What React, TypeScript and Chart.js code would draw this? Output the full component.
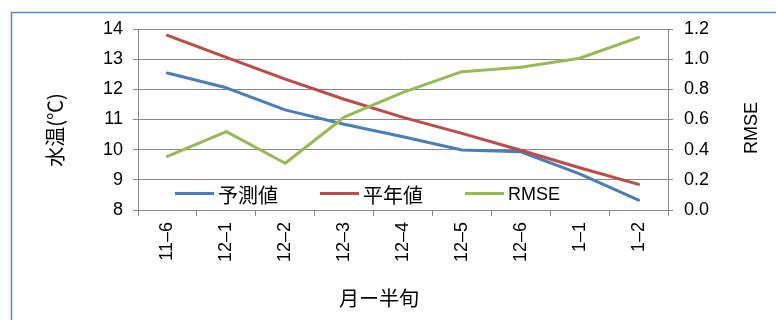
import React, { useEffect, useRef } from "react";
import { Chart, registerables } from "chart.js";

Chart.register(...registerables);

// 月-半旬 categories
const periods = ["11–6", "12–1", "12–2", "12–3", "12–4", "12–5", "12–6", "1–1", "1–2"];
// 予測値 (water temperature forecast, °C)
const forecast = [12.54, 12.05, 11.32, 10.84, 10.43, 9.99, 9.93, 9.2, 8.33];
// 平年値 (normal water temperature, °C)
const normal = [13.79, 13.06, 12.34, 11.67, 11.07, 10.54, 9.98, 9.4, 8.85];
// RMSE of the forecast
const rmse = [0.355, 0.52, 0.31, 0.615, 0.78, 0.917, 0.946, 1.006, 1.145];

const tempTicks = { min: 8, max: 14, step: 1 };
const rmseTicks = { min: 0, max: 1.2, step: 0.2 };

const BLUE = "#4A7EBB";
const RED = "#BE4B48";
const GREEN = "#98B954";
const GRID = "#888888";
const JP_FONT = '"Noto Sans CJK JP", "Noto Sans", sans-serif';
const LATIN_FONT = '"Liberation Sans", Arial, sans-serif';

const legendItems = [
  { label: "予測値", color: BLUE, x: 175, jp: true },
  { label: "平年値", color: RED, x: 320, jp: true },
  { label: "RMSE", color: GREEN, x: 465, jp: false },
];

const decorations = {
  id: "decorations",
  afterDraw(chart: Chart) {
    const ctx = chart.ctx;
    ctx.save();
    // frame around the chart
    ctx.strokeStyle = "#5B88C6";
    ctx.lineWidth = 1.5;
    ctx.strokeRect(11.5, 12.5, 900, 400);

    ctx.fillStyle = "#000";
    ctx.textAlign = "center";
    ctx.textBaseline = "middle";

    // left axis title
    ctx.save();
    ctx.translate(55, 130);
    ctx.rotate(-Math.PI / 2);
    ctx.font = `20px ${JP_FONT}`;
    ctx.fillText("水温(℃)", 0, 0);
    ctx.restore();

    // right axis title
    ctx.save();
    ctx.translate(752, 128);
    ctx.rotate(-Math.PI / 2);
    ctx.font = `18px ${LATIN_FONT}`;
    ctx.fillText("RMSE", 0, 0);
    ctx.restore();

    // x axis title
    ctx.font = `20px ${JP_FONT}`;
    ctx.fillText("月ー半旬", 379, 298);

    // legend inside the plot area
    ctx.textAlign = "left";
    for (const item of legendItems) {
      ctx.strokeStyle = item.color;
      ctx.lineWidth = 3;
      ctx.beginPath();
      ctx.moveTo(item.x, 193.5);
      ctx.lineTo(item.x + 39, 193.5);
      ctx.stroke();
      ctx.font = item.jp ? `20px ${JP_FONT}` : `18px ${LATIN_FONT}`;
      ctx.fillText(item.label, item.x + 43, 195);
    }
    ctx.restore();
  },
};

export default function App() {
  const canvasRef = useRef<HTMLCanvasElement | null>(null);

  useEffect(() => {
    const canvas = canvasRef.current;
    if (!canvas) return;
    const lineStyle = {
      borderWidth: 3,
      pointRadius: 0,
      tension: 0,
      borderJoinStyle: "round" as const,
      borderCapStyle: "round" as const,
    };
    const chart = new Chart(canvas, {
      type: "line",
      data: {
        labels: periods,
        datasets: [
          { label: "予測値", data: forecast, borderColor: BLUE, yAxisID: "y", order: 2, ...lineStyle },
          { label: "平年値", data: normal, borderColor: RED, yAxisID: "y", order: 1, ...lineStyle },
          { label: "RMSE", data: rmse, borderColor: GREEN, yAxisID: "y2", order: 0, ...lineStyle },
        ],
      },
      options: {
        responsive: false,
        animation: false,
        layout: { padding: { top: 29, left: 0, right: 0, bottom: 0 } },
        plugins: {
          legend: { display: false },
          tooltip: { enabled: false },
        },
        scales: {
          x: {
            type: "category",
            offset: true,
            grid: {
              offset: true,
              drawOnChartArea: false,
              drawTicks: true,
              tickLength: 6,
              color: GRID,
            },
            border: { color: GRID },
            ticks: {
              autoSkip: false,
              minRotation: 90,
              maxRotation: 90,
              padding: 6,
              color: "#000",
              font: { family: LATIN_FONT, size: 18 },
            },
            afterFit(scale: any) {
              scale.height = 110;
            },
          },
          y: {
            position: "left",
            min: tempTicks.min,
            max: tempTicks.max,
            ticks: {
              stepSize: tempTicks.step,
              padding: 10,
              color: "#000",
              font: { family: LATIN_FONT, size: 18 },
            },
            grid: { color: GRID, tickLength: 5 },
            border: { color: GRID },
            afterFit(scale: any) {
              scale.width = 138;
            },
          },
          y2: {
            position: "right",
            min: rmseTicks.min,
            max: rmseTicks.max,
            ticks: {
              stepSize: rmseTicks.step,
              padding: 11,
              color: "#000",
              font: { family: LATIN_FONT, size: 18 },
              callback: (v: any) => Number(v).toFixed(1),
            },
            grid: { color: GRID, drawOnChartArea: false, tickLength: 5 },
            border: { color: GRID },
            afterFit(scale: any) {
              scale.width = 108;
            },
          },
        },
      },
      plugins: [decorations],
    });
    return () => chart.destroy();
  }, []);

  return (
    <div style={{ position: "absolute", left: 0, top: 0, width: 776, height: 320, background: "#fff" }}>
      <canvas ref={canvasRef} width={776} height={320} />
    </div>
  );
}
